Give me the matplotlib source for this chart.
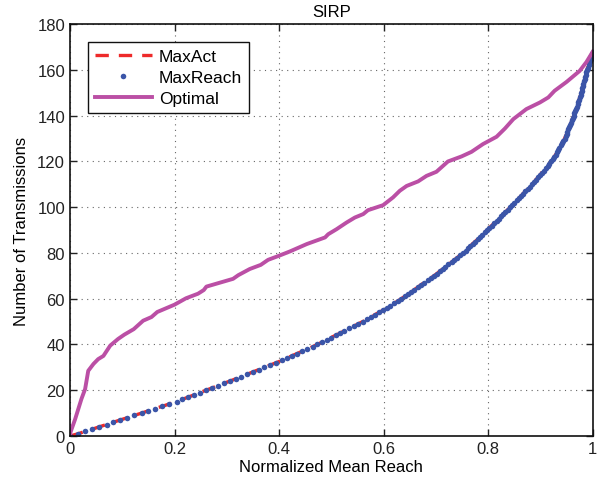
import matplotlib
matplotlib.use("Agg")
import matplotlib.pyplot as plt

plt.rcParams['font.family'] = ['Liberation Sans', 'DejaVu Sans']

# MaxReach / MaxAct: normalized mean reach for each number of transmissions
transmissions = list(range(0, 169))
maxreach_reach = [
    0.000, 0.016, 0.029, 0.043, 0.056, 0.070, 0.083, 0.096, 0.110, 0.123,
    0.137, 0.150, 0.163, 0.177, 0.190, 0.204, 0.215, 0.226, 0.238, 0.249,
    0.260, 0.272, 0.283, 0.294, 0.306, 0.317, 0.328, 0.339, 0.350, 0.361,
    0.372, 0.383, 0.394, 0.405, 0.415, 0.424, 0.434, 0.444, 0.454, 0.464,
    0.473, 0.482, 0.491, 0.499, 0.508, 0.517, 0.525, 0.534, 0.543, 0.551,
    0.560, 0.568, 0.576, 0.583, 0.591, 0.599, 0.606, 0.613, 0.620, 0.627,
    0.634, 0.640, 0.646, 0.653, 0.659, 0.665, 0.671, 0.677, 0.684, 0.690,
    0.696, 0.702, 0.707, 0.713, 0.718, 0.724, 0.730, 0.735, 0.741, 0.746,
    0.752, 0.757, 0.761, 0.766, 0.770, 0.775, 0.780, 0.784, 0.789, 0.793,
    0.798, 0.802, 0.807, 0.811, 0.816, 0.820, 0.824, 0.829, 0.833, 0.838,
    0.842, 0.846, 0.850, 0.855, 0.859, 0.863, 0.867, 0.871, 0.876, 0.880,
    0.884, 0.888, 0.891, 0.895, 0.899, 0.902, 0.906, 0.910, 0.914, 0.917,
    0.921, 0.924, 0.926, 0.929, 0.931, 0.934, 0.936, 0.939, 0.941, 0.944,
    0.946, 0.948, 0.950, 0.951, 0.953, 0.955, 0.957, 0.959, 0.960, 0.962,
    0.964, 0.965, 0.967, 0.968, 0.970, 0.971, 0.972, 0.974, 0.975, 0.977,
    0.978, 0.979, 0.980, 0.981, 0.982, 0.984, 0.985, 0.986, 0.987, 0.988,
    0.989, 0.990, 0.992, 0.993, 0.995, 0.996, 0.997, 0.999, 1.000,
]
# MaxAct overlaps MaxReach at this resolution
maxact_reach = list(maxreach_reach)

# Optimal curve
optimal_reach = [
    0.000, 0.001, 0.010, 0.022, 0.029, 0.035, 0.045, 0.054, 0.064, 0.077,
    0.092, 0.104, 0.122, 0.140, 0.156, 0.167, 0.200, 0.222, 0.245, 0.256,
    0.261, 0.312, 0.322, 0.344, 0.365, 0.379, 0.400, 0.421, 0.453, 0.488,
    0.494, 0.510, 0.529, 0.545, 0.561, 0.570, 0.599, 0.618, 0.631, 0.644,
    0.666, 0.682, 0.701, 0.723, 0.749, 0.768, 0.790, 0.816, 0.832, 0.848,
    0.873, 0.899, 0.915, 0.927, 0.950, 0.975, 0.988, 1.000,
]
optimal_tx = [
    0.0, 1.6, 7.4, 16.2, 20.5, 28.5, 31.5, 33.6, 35.0, 39.5,
    42.4, 44.3, 46.7, 50.4, 52.0, 54.2, 57.4, 60.2, 62.2, 63.8,
    65.3, 68.7, 70.3, 73.0, 74.8, 77.0, 78.8, 80.7, 83.9, 86.8,
    88.2, 90.4, 93.3, 95.5, 97.0, 98.7, 100.9, 104.3, 107.2, 109.3,
    111.3, 113.7, 115.5, 120.0, 122.2, 124.2, 127.6, 130.8, 134.4, 138.5,
    142.9, 145.8, 148.0, 150.9, 154.8, 159.6, 163.5, 168.0,
]

fig = plt.figure(figsize=(6.03, 4.85), dpi=100)
ax = fig.add_axes([0.116, 0.099, 0.867, 0.849])

ax.plot(maxact_reach, transmissions, color='#ee2a2a', linestyle='--',
        linewidth=2.4, dashes=(4, 3), label='MaxAct')
ax.plot(maxreach_reach, transmissions, color='#3b55a8', linestyle='none',
        marker='o', markersize=4.0, markeredgewidth=0, label='MaxReach')
ax.plot(optimal_reach, optimal_tx, color='#bb4fa5', linewidth=2.8,
        label='Optimal')

ax.set_xlim(0, 1)
ax.set_ylim(0, 180)
ax.set_xticks([0, 0.2, 0.4, 0.6, 0.8, 1])
ax.set_xticklabels(['0', '0.2', '0.4', '0.6', '0.8', '1'])
ax.set_yticks(range(0, 181, 20))
ax.tick_params(direction='in', top=True, right=True, labelsize=12,
               length=5, width=1, colors='#222222')
ax.grid(True, linestyle=(0, (1, 4)), color='#666666', linewidth=0.8)
for s in ax.spines.values():
    s.set_linewidth(1.2)
    s.set_color('#111111')

ax.set_xlabel('Normalized Mean Reach', fontsize=12, labelpad=2)
ax.set_ylabel('Number of Transmissions', fontsize=12, labelpad=6)
ax.set_title('SIRP', fontsize=12, pad=6)

leg = ax.legend(loc='upper left', bbox_to_anchor=(0.034, 0.958),
                fontsize=12.5, frameon=True, fancybox=False, framealpha=1,
                edgecolor='#111111', borderpad=0.4, labelspacing=0.35,
                handlelength=3.3, handletextpad=0.4, borderaxespad=0,
                markerscale=1.0)
leg.get_frame().set_linewidth(1.0)

fig.savefig('out.png', dpi=100)
